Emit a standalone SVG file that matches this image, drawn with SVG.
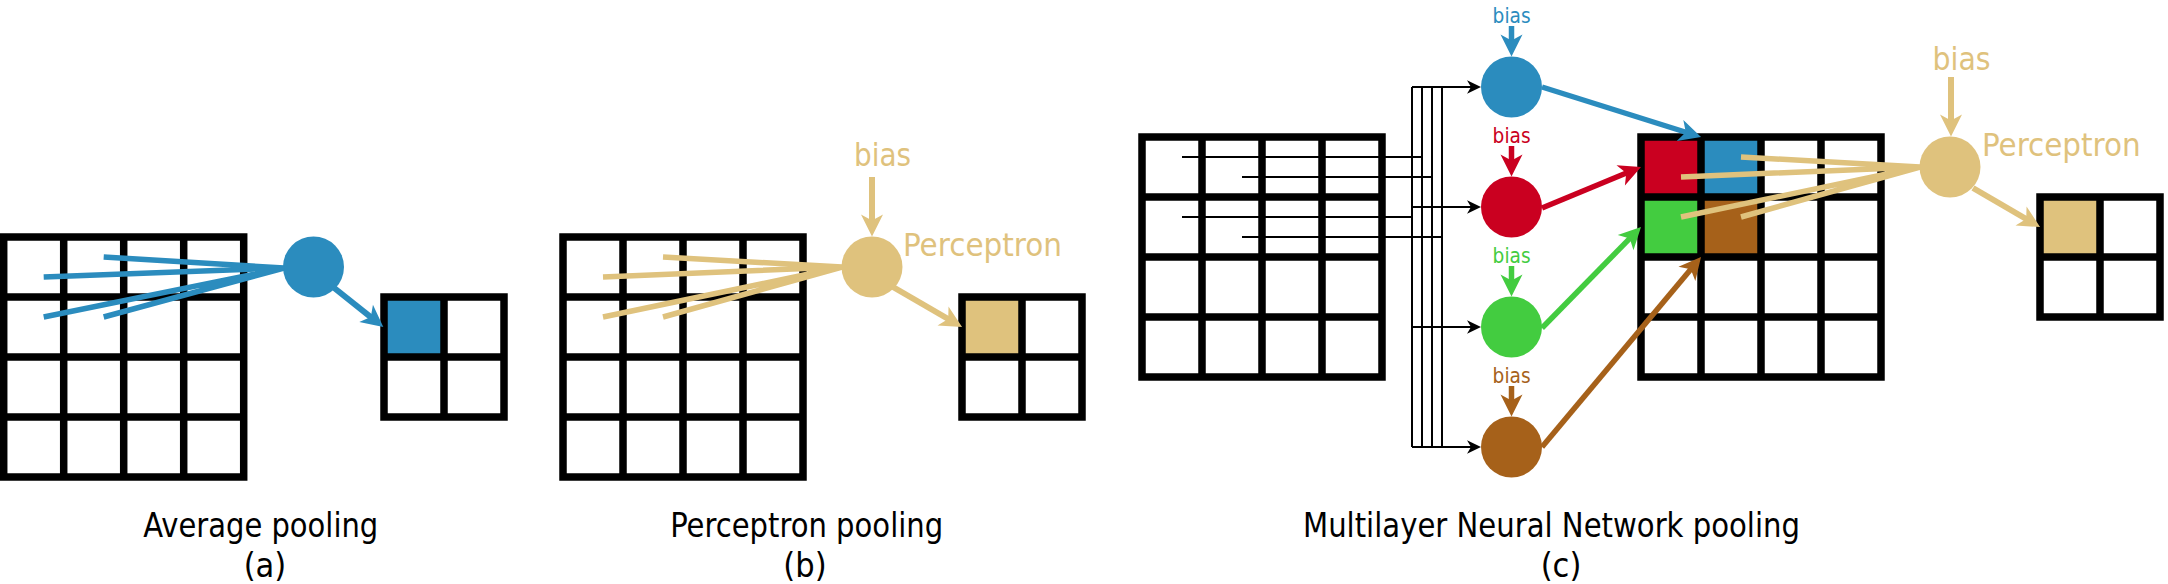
<svg xmlns="http://www.w3.org/2000/svg" xmlns:xlink="http://www.w3.org/1999/xlink" width="2168" height="584" viewBox="0 0 2168 584">
  <style>
    .grid { fill: none; stroke: #000; stroke-width: 7.5; }
    .txt { font-family: 'DejaVu Sans Condensed', 'DejaVu Sans', sans-serif; font-stretch: condensed; }
    .cap { font-size: 34px; fill: #000; }
    .lbl { font-size: 32px; }
    .lbls { font-size: 21px; }
    .fan { stroke-width: 5.5; fill: none; }
    .arr { stroke-width: 6; fill: none; }
    .arrc { stroke-width: 5.5; fill: none; }
    .thin { stroke: #000; stroke-width: 2; fill: none; }
    .blue { stroke: #2b8cbe; }
    .red { stroke: #ca0020; }
    .green { stroke: #43cc40; }
    .brown { stroke: #a6611a; }
    .tan { stroke: #dfc27d; }
  </style>
  <defs>
    <path id="g4" class="grid" d="M0,0H240V240H0Z M60,0V240 M120,0V240 M180,0V240 M0,60H240 M0,120H240 M0,180H240"/>
    <path id="g2" class="grid" d="M0,0H120V120H0Z M60,0V120 M0,60H120"/>
    <marker id="ah-blue" markerUnits="userSpaceOnUse" viewBox="-14 -13 28 26" markerWidth="28" markerHeight="26" refX="0" refY="0" orient="auto"><path d="M10,0 L-12,-11 L-6,0 L-12,11 Z" fill="#2b8cbe"/></marker>
    <marker id="ah-red" markerUnits="userSpaceOnUse" viewBox="-14 -13 28 26" markerWidth="28" markerHeight="26" refX="0" refY="0" orient="auto"><path d="M10,0 L-12,-11 L-6,0 L-12,11 Z" fill="#ca0020"/></marker>
    <marker id="ah-green" markerUnits="userSpaceOnUse" viewBox="-14 -13 28 26" markerWidth="28" markerHeight="26" refX="0" refY="0" orient="auto"><path d="M10,0 L-12,-11 L-6,0 L-12,11 Z" fill="#43cc40"/></marker>
    <marker id="ah-brown" markerUnits="userSpaceOnUse" viewBox="-14 -13 28 26" markerWidth="28" markerHeight="26" refX="0" refY="0" orient="auto"><path d="M10,0 L-12,-11 L-6,0 L-12,11 Z" fill="#a6611a"/></marker>
    <marker id="ah-tan" markerUnits="userSpaceOnUse" viewBox="-14 -13 28 26" markerWidth="28" markerHeight="26" refX="0" refY="0" orient="auto"><path d="M10,0 L-12,-11 L-6,0 L-12,11 Z" fill="#dfc27d"/></marker>
    <marker id="ah-black" markerUnits="userSpaceOnUse" viewBox="-9 -8 18 16" markerWidth="18" markerHeight="16" refX="0" refY="0" orient="auto"><path d="M7,0 L-7,-6.7 L-3,0 L-7,6.7 Z" fill="#000"/></marker>
  </defs>

  <!-- (a) Average pooling -->
  <g id="a-input-grid"><use xlink:href="#g4" x="3.7" y="237"/></g>
  <g id="a-neuron"><circle cx="313.5" cy="267" r="30.5" fill="#2b8cbe"/></g>
  <g id="a-output-grid">
    <rect x="384" y="297" width="60" height="60" fill="#2b8cbe"/>
    <use xlink:href="#g2" x="384" y="297"/>
  </g>

  <!-- (b) Perceptron pooling -->
  <g id="b-input-grid"><use xlink:href="#g4" x="563" y="237"/></g>
  <g id="b-neuron">
    <circle cx="872" cy="267" r="30.5" fill="#dfc27d"/>
    <text class="txt lbl" x="854" y="166" fill="#dfc27d" textLength="57" lengthAdjust="spacingAndGlyphs">bias</text>
    <text class="txt lbl" x="903" y="256" fill="#dfc27d" textLength="159" lengthAdjust="spacingAndGlyphs">Perceptron</text>
  </g>
  <g id="b-output-grid">
    <rect x="962" y="297" width="60" height="60" fill="#dfc27d"/>
    <use xlink:href="#g2" x="962" y="297"/>
  </g>

  <!-- (c) Multilayer Neural Network pooling -->
  <g id="c-input-grid"><use xlink:href="#g4" x="1142" y="137"/></g>
  <g id="c-neuron-blue">
    <circle cx="1511.5" cy="87" r="30.5" fill="#2b8cbe"/>
    <text class="txt lbls" x="1511.6" y="22.7" text-anchor="middle" fill="#2b8cbe" textLength="38" lengthAdjust="spacingAndGlyphs">bias</text>
  </g>
  <g id="c-neuron-red">
    <circle cx="1511.5" cy="207" r="30.5" fill="#ca0020"/>
    <text class="txt lbls" x="1511.6" y="142.7" text-anchor="middle" fill="#ca0020" textLength="38" lengthAdjust="spacingAndGlyphs">bias</text>
  </g>
  <g id="c-neuron-green">
    <circle cx="1511.5" cy="327" r="30.5" fill="#43cc40"/>
    <text class="txt lbls" x="1511.6" y="262.7" text-anchor="middle" fill="#43cc40" textLength="38" lengthAdjust="spacingAndGlyphs">bias</text>
  </g>
  <g id="c-neuron-brown">
    <circle cx="1511.5" cy="447" r="30.5" fill="#a6611a"/>
    <text class="txt lbls" x="1511.6" y="382.7" text-anchor="middle" fill="#a6611a" textLength="38" lengthAdjust="spacingAndGlyphs">bias</text>
  </g>
  <g id="c-hidden-grid">
    <rect x="1641" y="137" width="60" height="60" fill="#ca0020"/>
    <rect x="1701" y="137" width="60" height="60" fill="#2b8cbe"/>
    <rect x="1641" y="197" width="60" height="60" fill="#43cc40"/>
    <rect x="1701" y="197" width="60" height="60" fill="#a6611a"/>
    <use xlink:href="#g4" x="1641" y="137"/>
  </g>
  <g id="c-perceptron">
    <circle cx="1950" cy="167" r="30.5" fill="#dfc27d"/>
    <text class="txt lbl" x="1932.6" y="70" fill="#dfc27d" textLength="58" lengthAdjust="spacingAndGlyphs">bias</text>
    <text class="txt lbl" x="1982" y="156" fill="#dfc27d" textLength="158.6" lengthAdjust="spacingAndGlyphs">Perceptron</text>
  </g>
  <g id="c-output-grid">
    <rect x="2040" y="197" width="60" height="60" fill="#dfc27d"/>
    <use xlink:href="#g2" x="2040" y="197"/>
  </g>

  <!-- connectors -->
  <g id="connectors">
    <!-- (a) fan and output -->
    <path class="fan blue" d="M43.7,277L284,268 M103.7,257L284,268 M43.7,317L284,268 M103.7,317L284,268"/>
    <line class="arr blue" x1="333" y1="287" x2="375.5" y2="320.8" marker-end="url(#ah-blue)"/>
    <!-- (b) fan, bias, output -->
    <path class="fan tan" d="M603,277L842,267 M663,257L842,267 M603,317L842,267 M663,317L842,267"/>
    <line class="arr tan" x1="872" y1="177" x2="872" y2="226.5" marker-end="url(#ah-tan)"/>
    <line class="arr tan" x1="893" y1="287" x2="953.4" y2="322" marker-end="url(#ah-tan)"/>
    <!-- (c) thin inputs to buses -->
    <path class="thin" d="M1182,157H1422 M1242,177H1432 M1182,217H1412 M1242,237H1442"/>
    <path class="thin" d="M1412,87V447 M1422,87V447 M1432,87V447 M1442,87V447"/>
    <line class="thin" x1="1412" y1="87" x2="1474" y2="87" marker-end="url(#ah-black)"/>
    <line class="thin" x1="1412" y1="207" x2="1474" y2="207" marker-end="url(#ah-black)"/>
    <line class="thin" x1="1412" y1="327" x2="1474" y2="327" marker-end="url(#ah-black)"/>
    <line class="thin" x1="1412" y1="447" x2="1474" y2="447" marker-end="url(#ah-black)"/>
    <!-- (c) bias arrows -->
    <line class="arrc blue" x1="1511.5" y1="26" x2="1511.5" y2="46.5" marker-end="url(#ah-blue)"/>
    <line class="arrc red" x1="1511.5" y1="146" x2="1511.5" y2="166.5" marker-end="url(#ah-red)"/>
    <line class="arrc green" x1="1511.5" y1="266" x2="1511.5" y2="286.5" marker-end="url(#ah-green)"/>
    <line class="arrc brown" x1="1511.5" y1="386" x2="1511.5" y2="406.5" marker-end="url(#ah-brown)"/>
    <!-- (c) neuron outputs -->
    <line class="arrc blue" x1="1542" y1="87" x2="1691.5" y2="134" marker-end="url(#ah-blue)"/>
    <line class="arrc red" x1="1542" y1="208" x2="1631.8" y2="170.8" marker-end="url(#ah-red)"/>
    <line class="arrc green" x1="1542" y1="328" x2="1634" y2="234.1" marker-end="url(#ah-green)"/>
    <line class="arrc brown" x1="1542" y1="447" x2="1694.6" y2="264.7" marker-end="url(#ah-brown)"/>
    <!-- (c) perceptron fan, bias, output -->
    <path class="fan tan" d="M1681,177L1920,167 M1741,157L1920,167 M1681,217L1920,167 M1741,217L1920,167"/>
    <line class="arr tan" x1="1951" y1="77" x2="1951" y2="126.5" marker-end="url(#ah-tan)"/>
    <line class="arr tan" x1="1973" y1="188" x2="2031.4" y2="222" marker-end="url(#ah-tan)"/>
  </g>

  <!-- captions -->
  <g id="captions" class="txt cap">
    <text x="260.8" y="536.7" text-anchor="middle" textLength="235" lengthAdjust="spacingAndGlyphs">Average pooling</text>
    <text x="265" y="577" text-anchor="middle">(a)</text>
    <text x="806.7" y="536.7" text-anchor="middle" textLength="273" lengthAdjust="spacingAndGlyphs">Perceptron pooling</text>
    <text x="805" y="577" text-anchor="middle">(b)</text>
    <text x="1551.5" y="536.7" text-anchor="middle" textLength="497" lengthAdjust="spacingAndGlyphs">Multilayer Neural Network pooling</text>
    <text x="1561" y="577" text-anchor="middle">(c)</text>
  </g>
</svg>
